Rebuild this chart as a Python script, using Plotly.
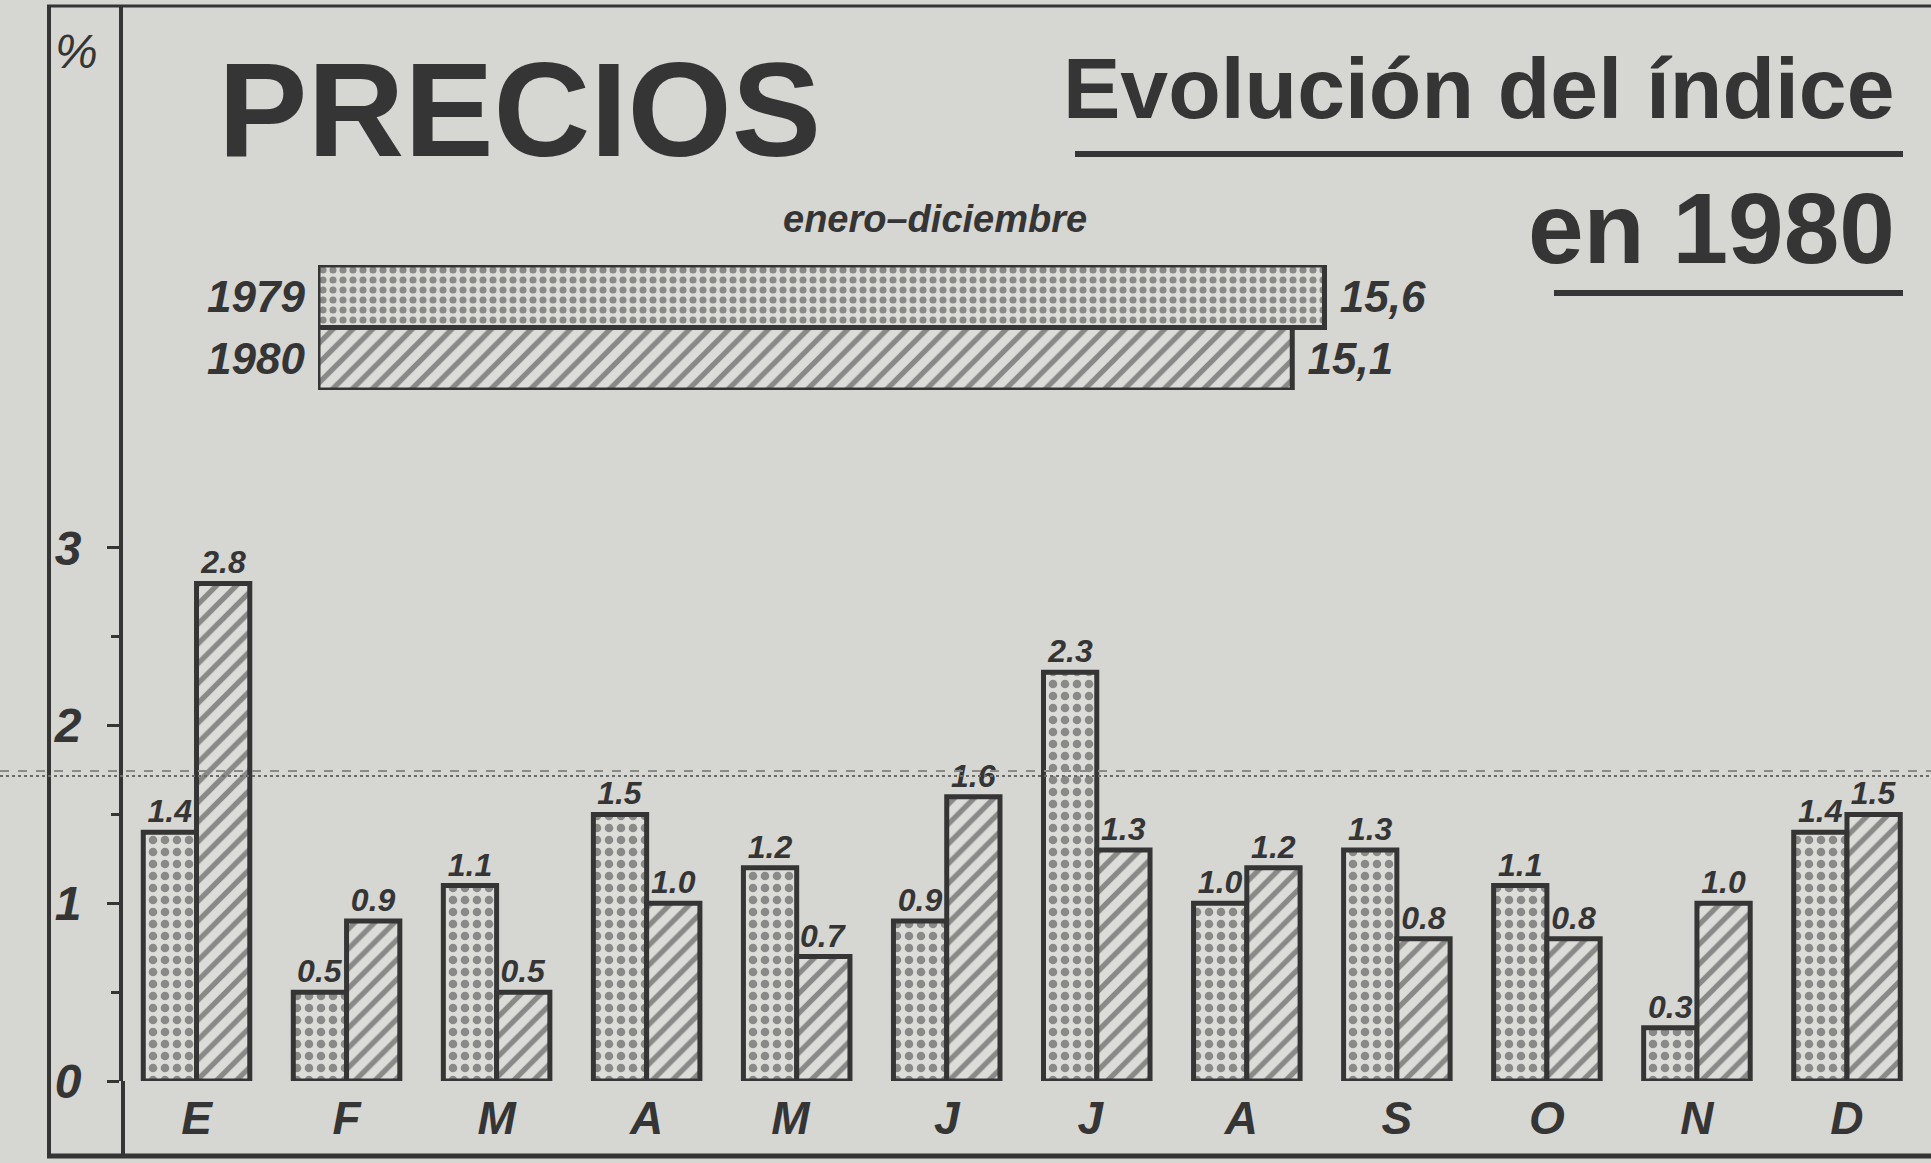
import plotly.graph_objects as go

# ---- data ----
months = ["E", "F", "M", "A", "M ", "J", "J ", "A ", "S", "O", "N", "D"]
v1979 = [1.4, 0.5, 1.1, 1.5, 1.2, 0.9, 2.3, 1.0, 1.3, 1.1, 0.3, 1.4]
v1980 = [2.8, 0.9, 0.5, 1.0, 0.7, 1.6, 1.3, 1.2, 0.8, 0.8, 1.0, 1.5]
years = ["1979", "1980"]
annual = [15.6, 15.1]
y_ticks = [0, 1, 2, 3]

INK = "#353535"
BG = "#d6d6d3"
FILL = "#dcdcd9"
FONT = "Liberation Sans, Arial, sans-serif"
W, H = 1931, 1163
L, R, T, B = 123, 0, 6, 82
PW, PH = W - L - R, H - T - B


def px(x):
    return (x - L) / PW


def py(y):
    return (H - B - y) / PH


lab = dict(family=FONT, color=INK, style="italic", weight="bold")

fig = go.Figure()

fig.add_trace(go.Bar(
    x=months, y=v1979, name="1979",
    text=[f"{v:.1f}" for v in v1979], textposition="outside", cliponaxis=False,
    textfont=dict(size=32, **lab),
    marker=dict(color=FILL, line=dict(color=INK, width=5),
                pattern=dict(shape=".", fgcolor=INK, bgcolor=FILL, size=12, solidity=0.4)),
))
fig.add_trace(go.Bar(
    x=months, y=v1980, name="1980",
    text=[f"{v:.1f}" for v in v1980], textposition="outside", cliponaxis=False,
    textfont=dict(size=32, **lab),
    marker=dict(color=FILL, line=dict(color=INK, width=5),
                pattern=dict(shape="/", fgcolor=INK, bgcolor=FILL, size=14, solidity=0.38)),
))
fig.add_trace(go.Bar(
    x=annual, y=years, orientation="h", xaxis="x2", yaxis="y2", width=1.0,
    text=[" " + f"{v:.1f}".replace(".", ",") for v in annual], textposition="outside", cliponaxis=False,
    textfont=dict(size=44, **lab),
    marker=dict(color=FILL, line=dict(color=INK, width=5),
                pattern=dict(shape=[".", "/"], fgcolor=INK, bgcolor=FILL, size=[10, 14], solidity=[0.4, 0.38])),
))

fig.update_layout(
    width=W, height=H, margin=dict(l=L, r=R, t=T, b=B),
    paper_bgcolor=BG, plot_bgcolor=BG, showlegend=False,
    barmode="group", bargap=0.29, bargroupgap=0,
    xaxis=dict(
        range=[-0.49, 11.56], showgrid=False, zeroline=False, showline=False, ticks="",
        tickfont=dict(size=46, **lab), ticklabelstandoff=6, fixedrange=True,
    ),
    yaxis=dict(
        range=[0, (H - B - T) / 177.7], tickvals=y_ticks, ticktext=[str(t) for t in y_ticks],
        showgrid=False, zeroline=False, showline=True, linecolor=INK, linewidth=4,
        ticks="outside", ticklen=12, tickwidth=3, tickcolor=INK,
        minor=dict(tickvals=[0.5, 1.5, 2.5], ticks="outside", ticklen=8, tickwidth=3, tickcolor=INK),
        tickfont=dict(size=48, **lab), ticklabelstandoff=16,
    ),
    xaxis2=dict(domain=[px(318), 1.0], range=[0, 25], anchor="y2", visible=False),
    yaxis2=dict(domain=[py(390), py(265)], range=[1.5, -0.5], anchor="x2",
                showgrid=False, zeroline=False, showline=False, ticks="",
                tickfont=dict(size=44, **lab), ticklabelstandoff=12),
)

# frame and decorations
shapes = [
    dict(type="line", xref="paper", yref="paper", x0=px(49), x1=px(49), y0=py(1156), y1=py(6),
         line=dict(color=INK, width=4)),
    dict(type="line", xref="paper", yref="paper", x0=px(47), x1=1.01, y0=py(6), y1=py(6),
         line=dict(color=INK, width=3)),
    dict(type="line", xref="paper", yref="paper", x0=px(47), x1=1.01, y0=py(1156), y1=py(1156),
         line=dict(color=INK, width=5)),
    dict(type="line", xref="paper", yref="paper", x0=0, x1=0, y0=py(1156), y1=0,
         line=dict(color=INK, width=4)),
    dict(type="line", xref="paper", yref="paper", x0=px(1075), x1=px(1903), y0=py(154), y1=py(154),
         line=dict(color=INK, width=6)),
    dict(type="line", xref="paper", yref="paper", x0=px(1554), x1=px(1903), y0=py(293), y1=py(293),
         line=dict(color=INK, width=6)),
    dict(type="line", xref="paper", yref="paper", x0=px(0), x1=1.0, y0=py(771), y1=py(771),
         line=dict(color="#8a8a88", width=2, dash="dash")),
    dict(type="line", xref="paper", yref="paper", x0=px(0), x1=1.0, y0=py(776), y1=py(776),
         line=dict(color="#6a6a68", width=2, dash="dot")),
]
fig.update_layout(shapes=shapes)

annots = [
    dict(text="%", x=px(76), y=py(52), xanchor="center",
         font=dict(family=FONT, size=48, color=INK, style="italic")),
    dict(text="<b>PRECIOS</b>", x=px(519), y=py(110), xanchor="center",
         font=dict(family=FONT, size=134, color=INK)),
    dict(text="<b>Evolución del índice</b>", x=px(1897), y=py(88), xanchor="right",
         font=dict(family=FONT, size=86, color=INK)),
    dict(text="<b>en 1980</b>", x=px(1897), y=py(228), xanchor="right",
         font=dict(family=FONT, size=100, color=INK)),
    dict(text="enero–diciembre", x=px(935), y=py(219), xanchor="center",
         font=dict(size=38, **lab)),
]
for a in annots:
    a.update(xref="paper", yref="paper", showarrow=False, yanchor="middle")
fig.update_layout(annotations=annots)

fig.write_html("out.html", config={"displayModeBar": False},
               post_script="document.body.style.margin='0px';")
